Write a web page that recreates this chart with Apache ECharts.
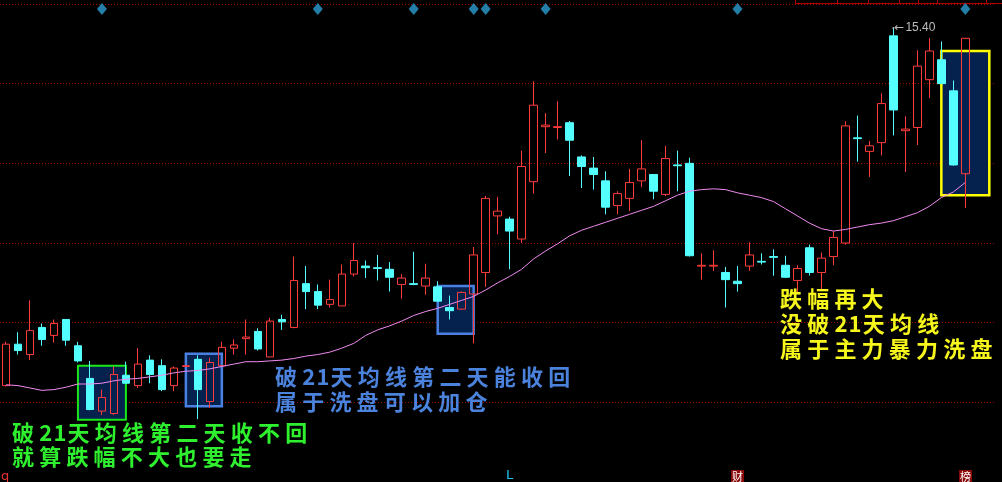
<!DOCTYPE html>
<html>
<head>
<meta charset="utf-8">
<script src="https://cdn.jsdelivr.net/npm/echarts@6/dist/echarts.min.js"></script>
<style>
  html, body { margin: 0; padding: 0; background: #000; }
  #chart { width: 1002px; height: 482px; }
</style>
</head>
<body>
<div id="chart"></div>
<script>
// 日K线数据（开盘、收盘、最低、最高），共81个交易日
const opens = [
  10.91, 11.43, 11.30, 11.64, 11.54, 11.74, 11.41, 11.00, 10.59, 10.56,
  11.04, 10.91, 11.23, 11.16, 10.91, 11.15, 11.24, 10.71, 11.16, 11.38,
  11.50, 11.59, 11.27, 11.74, 11.64, 12.19, 12.09, 11.93, 11.91, 12.31,
  12.41, 12.39, 12.37, 12.18, 12.19, 12.16, 12.15, 11.89, 11.87, 12.06,
  12.33, 13.04, 13.00, 12.75, 13.47, 14.16, 14.15, 14.21, 13.78, 13.64,
  13.48, 13.17, 13.26, 13.48, 13.56, 13.31, 13.68, 13.70, 12.41, 12.41,
  12.33, 12.22, 12.41, 12.47, 12.53, 12.42, 12.23, 12.64, 12.33, 12.53,
  12.70, 14.02, 13.85, 13.96, 15.30, 14.11, 14.15, 14.75, 15.00, 14.61,
  13.57
];
const closes = [
  11.43, 11.35, 11.60, 11.49, 11.69, 11.48, 11.22, 10.61, 10.76, 11.05,
  10.94, 11.18, 11.05, 10.86, 11.13, 11.16, 10.86, 11.20, 11.39, 11.42,
  11.52, 11.37, 11.72, 11.71, 12.23, 12.09, 11.92, 11.99, 12.31, 12.48,
  12.39, 12.38, 12.27, 12.26, 12.18, 12.26, 11.97, 11.85, 12.08, 12.55,
  13.26, 13.10, 12.85, 13.66, 14.43, 14.18, 14.16, 13.99, 13.66, 13.56,
  13.15, 13.32, 13.46, 13.63, 13.35, 13.76, 13.67, 12.54, 12.42, 12.42,
  12.24, 12.19, 12.55, 12.46, 12.52, 12.27, 12.38, 12.33, 12.51, 12.77,
  14.17, 14.01, 13.92, 14.45, 14.37, 14.13, 14.92, 15.11, 14.70, 13.68,
  15.27
];
const lows = [
  10.90, 11.30, 11.23, 11.41, 11.45, 11.41, 11.20, 10.60, 10.54, 10.54,
  10.94, 10.88, 10.94, 10.84, 10.84, 11.15, 10.49, 10.63, 11.16, 11.30,
  11.30, 11.35, 11.27, 11.61, 11.63, 11.87, 11.87, 11.89, 11.91, 12.28,
  12.26, 12.23, 12.09, 12.00, 12.17, 12.05, 11.97, 11.74, 11.86, 11.44,
  12.15, 12.81, 12.37, 12.70, 13.32, 13.83, 14.00, 13.54, 13.39, 13.37,
  13.06, 13.06, 13.10, 13.40, 13.25, 13.29, 13.35, 12.53, 12.24, 12.35,
  11.89, 12.09, 12.35, 12.43, 12.29, 12.26, 12.08, 12.29, 12.12, 12.42,
  12.68, 13.72, 13.53, 13.80, 14.05, 13.59, 13.93, 14.52, 14.70, 13.67,
  13.14
];
const highs = [
  11.46, 11.58, 11.98, 11.69, 11.74, 11.74, 11.46, 11.22, 10.86, 11.15,
  11.21, 11.38, 11.29, 11.24, 11.15, 11.16, 11.29, 11.26, 11.46, 11.49,
  11.74, 11.63, 11.76, 11.80, 12.53, 12.41, 12.18, 12.24, 12.43, 12.70,
  12.48, 12.55, 12.46, 12.31, 12.59, 12.44, 12.22, 12.04, 12.09, 12.65,
  13.29, 13.28, 13.03, 13.86, 14.73, 14.33, 14.48, 14.23, 13.80, 13.78,
  13.60, 13.35, 13.63, 13.99, 13.56, 13.92, 13.86, 13.77, 12.57, 12.61,
  12.40, 12.41, 12.71, 12.57, 12.62, 12.54, 12.42, 12.68, 12.58, 12.85,
  14.23, 14.30, 13.98, 14.58, 15.40, 14.29, 15.12, 15.27, 15.23, 14.74,
  15.27
];
// 21日均线
const ma21 = [
  10.92, 10.91, 10.88, 10.85, 10.86, 10.89, 10.93, 10.93, 10.94, 10.97,
  10.99, 11.00, 11.02, 11.04, 11.07, 11.09, 11.10, 11.12, 11.15, 11.18,
  11.21, 11.21, 11.22, 11.23, 11.25, 11.28, 11.30, 11.33, 11.38, 11.44,
  11.54, 11.61, 11.66, 11.72, 11.79, 11.84, 11.88, 11.93, 11.98, 12.03,
  12.11, 12.20, 12.28, 12.37, 12.50, 12.60, 12.69, 12.79, 12.86, 12.91,
  12.96, 13.01, 13.06, 13.11, 13.16, 13.23, 13.30, 13.35, 13.37, 13.38,
  13.37, 13.33, 13.30, 13.27, 13.22, 13.13, 13.04, 12.95, 12.88, 12.85,
  12.87, 12.90, 12.93, 12.95, 12.98, 13.03, 13.08, 13.16, 13.27, 13.34,
  13.46
];
// 顶部事件标记所在的交易日序号
const eventDays = [8, 26, 34, 39, 40, 45, 61, 80];
// 价格轴范围与分隔
const priceMin = 9.7;
const priceMax = 15.7;
const priceStep = 1;
// 横轴：81个交易日，右侧再留两个空位
const slots = Array.from({ length: 83 }, (_, i) => String(i));

const chart = echarts.init(document.getElementById('chart'), null, { renderer: 'canvas' });

// 逐字排版的批注文字
const CJK_STEP = 27.2, NUM_STEP = 14.2;
function textRow(str, left, midY, color) {
  const items = [];
  let x = left;
  for (const ch of str) {
    items.push({
      type: 'text', x: x, y: midY, silent: true, z: 50,
      style: {
        text: ch, fill: color, verticalAlign: 'middle', align: 'left',
        font: 'bold 22px "Noto Sans CJK SC"'
      }
    });
    x += /[0-9A-Za-z]/.test(ch) ? NUM_STEP : CJK_STEP;
  }
  return items;
}

const GREEN = '#2ef02e', BLUE = '#4b82dc', YELLOW = '#f6f61c';
const notes = [].concat(
  textRow('破21天均线第二天收不回', 12, 433, GREEN),
  textRow('就算跌幅不大也要走', 12, 457, GREEN),
  textRow('破21天均线第二天能收回', 275, 377, BLUE),
  textRow('属于洗盘可以加仓', 275, 402, BLUE),
  textRow('跌幅再大', 780, 299, YELLOW),
  textRow('没破21天均线', 780, 324, YELLOW),
  textRow('属于主力暴力洗盘', 780, 349, YELLOW)
);

// 右上角刻度条
const scaleBar = [
  { type: 'line', silent: true, shape: { x1: 795, y1: 3.5, x2: 1002, y2: 3.5 }, style: { stroke: '#b00000', lineWidth: 1 } }
].concat([795.5, 837.5, 868.5, 899.5, 918.5, 937.5, 986.5].map(x => ({
  type: 'line', silent: true, shape: { x1: x, y1: 0, x2: x, y2: 3.5 }, style: { stroke: '#b00000', lineWidth: 1 }
})));

// 底部信息标签
const tags = [
  { type: 'text', x: 1, y: 470, silent: true, style: { text: 'q', fill: '#e83232', font: '13px "DejaVu Sans"' } },
  { type: 'text', x: 506, y: 469, silent: true, style: { text: 'L', fill: '#1ec8ee', font: '13px "DejaVu Sans"' } },
  { type: 'text', x: 731, y: 470, silent: true, style: { text: '财', fill: '#ffffff', font: '11px "Noto Sans CJK SC"', backgroundColor: '#8a0808', padding: [1, 1, 1, 1] } },
  { type: 'text', x: 959, y: 470, silent: true, style: { text: '榜', fill: '#ffffff', font: '11px "Noto Sans CJK SC"', backgroundColor: '#8a0808', padding: [1, 1, 1, 1] } }
];

const NAVY = '#05224f';
function boxStyle(border, width) {
  return { color: NAVY, opacity: 1, borderColor: border, borderWidth: width, borderType: 'solid' };
}
const option = {
  backgroundColor: '#000000',
  animation: false,
  grid: { left: -0.7, top: 4, right: 6.7, height: 480 },
  xAxis: {
    type: 'category', data: slots, boundaryGap: true,
    axisLine: { show: false }, axisTick: { show: false }, axisLabel: { show: false }, splitLine: { show: false }
  },
  yAxis: {
    type: 'value', min: priceMin, max: priceMax, interval: priceStep, scale: true,
    axisLine: { show: false }, axisTick: { show: false }, axisLabel: { show: false },
    splitLine: { show: true, lineStyle: { color: '#a00000', type: [1, 2], width: 1 } }
  },
  series: [
    {
      type: 'candlestick',
      data: opens.map((o, i) => [o, closes[i], lows[i], highs[i]]),
      barWidth: 8,
      itemStyle: {
        color: 'transparent', color0: '#54ffff',
        borderColor: '#ff3c3c', borderColor0: '#54ffff', borderWidth: 1
      },
      markArea: {
        silent: true,
        itemStyle: { color: NAVY, opacity: 1 },
        data: [
          [{ xAxis: 6, yAxis: 11.16, itemStyle: boxStyle('#18e818', 2) }, { xAxis: 10, yAxis: 10.48 }],
          [{ xAxis: 15, yAxis: 11.31, itemStyle: boxStyle('#4a80e2', 2.5) }, { xAxis: 18, yAxis: 10.65 }],
          [{ xAxis: 36, yAxis: 12.16, itemStyle: boxStyle('#4a80e2', 2.5) }, { xAxis: 39, yAxis: 11.56 }],
          [{ xAxis: 78, yAxis: 15.11, itemStyle: boxStyle('#ffff00', 2.5) }, { xAxis: 82, yAxis: 13.30 }]
        ]
      },
      markPoint: {
        symbol: 'circle', symbolSize: 2,
        itemStyle: { color: '#bdbdbd' },
        data: [{ type: 'max', valueDim: 'highest' }],
        label: {
          show: true, position: 'right', distance: 0,
          formatter: p => '{a|\u2190}{b|' + Number(p.value).toFixed(2) + '}',
          rich: {
            a: { color: '#bdbdbd', fontSize: 12, fontFamily: '"DejaVu Sans", sans-serif' },
            b: { color: '#bdbdbd', fontSize: 12, fontFamily: '"Liberation Sans", Arial, sans-serif', padding: [0, 0, 0, 1] }
          }
        }
      }
    },
    {
      type: 'line', name: 'MA21', data: ma21,
      symbol: 'none', smooth: false,
      lineStyle: { color: '#f28af2', width: 1 },
      z: 3
    },
    {
      type: 'scatter', data: eventDays.map(d => [d, priceMax]),
      symbol: 'diamond', symbolSize: [10, 12], symbolOffset: [0, 5],
      itemStyle: { color: '#2c9ed2' }, z: 4
    }
  ],
  graphic: [].concat(scaleBar, tags, notes)
};
chart.setOption(option);
</script>
</body>
</html>
